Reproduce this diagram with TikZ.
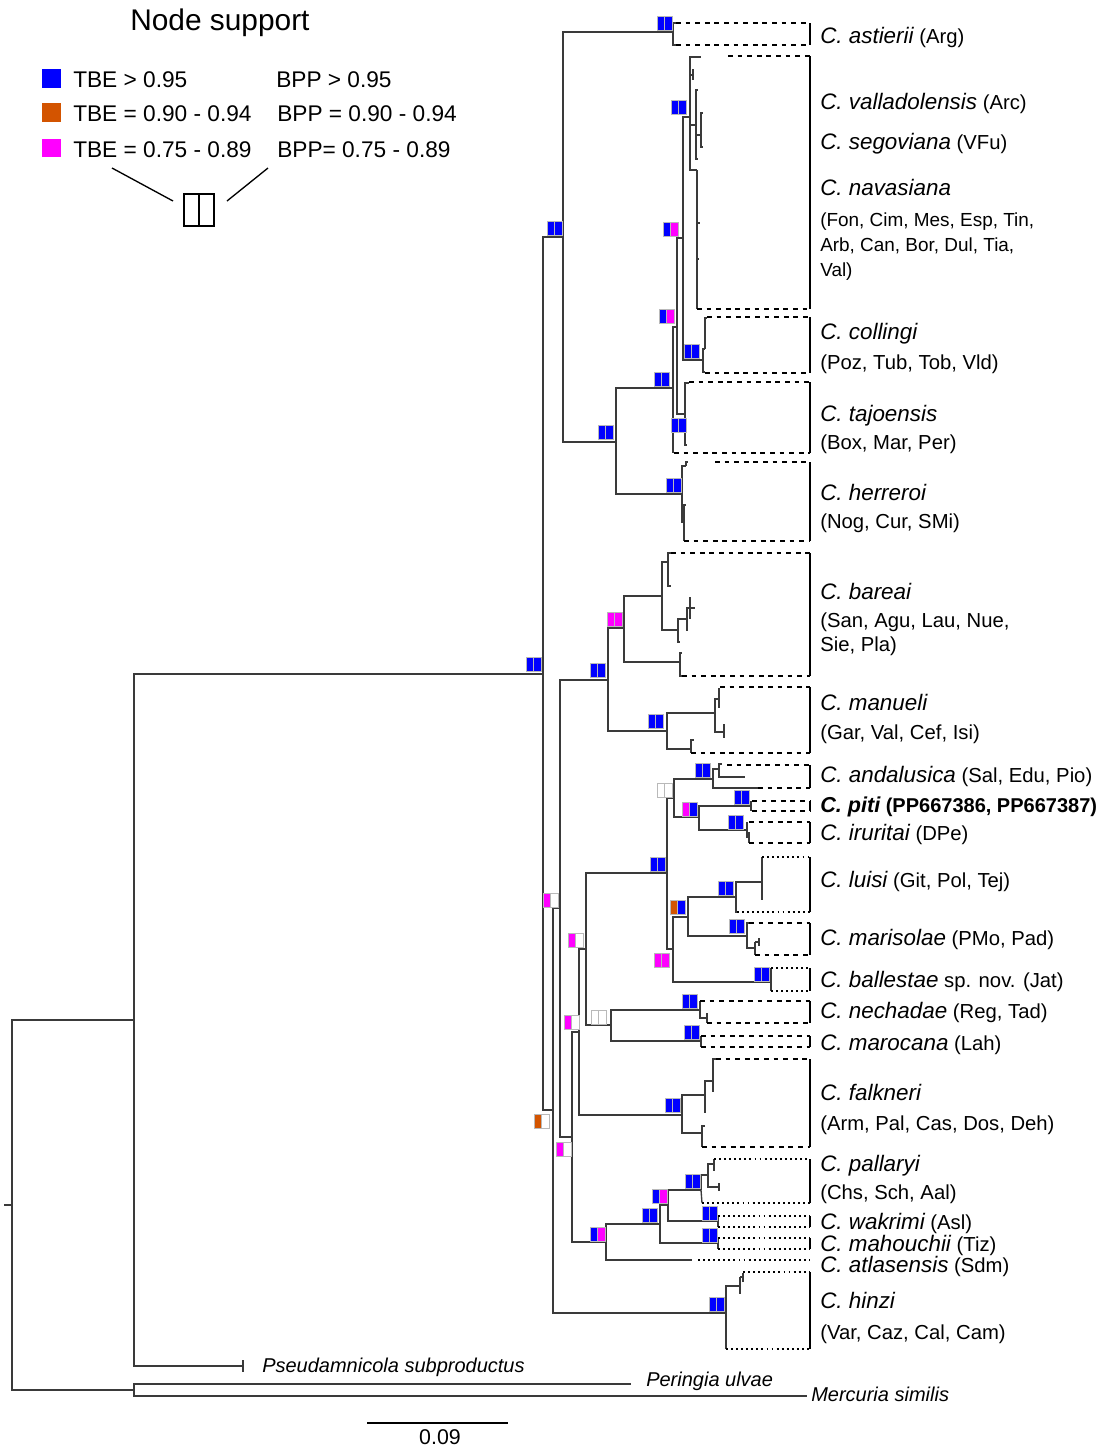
\documentclass[tikz,border=0pt]{standalone}
\usepackage{fontspec}
\setmainfont{Liberation Sans}
\usetikzlibrary{calc}
\definecolor{tbeblue}{HTML}{0000FF}
\definecolor{tbepink}{HTML}{FF00FF}
\definecolor{tbeorange}{HTML}{D35400}
\definecolor{branchgray}{HTML}{3A3A3A}
\newcommand{\taxon}[1]{{\fontsize{16.8}{19}\selectfont\itshape #1}}

\begin{document}
\begin{tikzpicture}[x=0.75pt, y=-0.75pt,
    br/.style={draw=branchgray, line width=1pt},
    dsh/.style={draw=black, line width=1.3pt, dash pattern=on 3.6pt off 3.6pt},
    dts/.style={draw=black, line width=1pt, dash pattern=on 1.4pt off 2.4pt},
    side/.style={draw=black, line width=1.2pt},
    lab/.style={anchor=base west, inner sep=0pt, font=\fontsize{15.2}{18}\selectfont},
    loclab/.style={lab, font=\fontsize{14.2}{17}\selectfont},
    outlab/.style={anchor=base west, inner sep=0pt, font=\fontsize{15}{18}\selectfont\itshape},
    key/.style={anchor=base west, inner sep=0pt, font=\fontsize{17}{20}\selectfont},
    keysq/.style={rectangle, minimum size=14.2pt, inner sep=0pt},
    keybox/.style={rectangle, draw=black, line width=1.3pt, minimum width=22.5pt, minimum height=24pt, inner sep=0pt},
    pics/supp/.style 2 args={code={
        \filldraw[fill=#1, draw=gray!55, line width=0.4pt] (-15,0) rectangle (-7.5,-14);
        \filldraw[fill=#2, draw=gray!55, line width=0.4pt] (-7.5,0) rectangle (0,-14);
    }}
]
\useasboundingbox (0,0) rectangle (1107,1447);

% Legend
\node[anchor=base west, inner sep=0pt, font=\fontsize{22.4}{26}\selectfont] (kTitle) at (130,30) {Node support};
\node[keysq, fill=tbeblue] (kBlue) at (51.5,78.5) {};
\node[keysq, fill=tbeorange] (kOrange) at (51.5,112.5) {};
\node[keysq, fill=tbepink] (kPink) at (51.5,148) {};
\node[key] (kT1) at (73,87) {TBE > 0.95};
\node[key] (kT2) at (73,121) {TBE = 0.90 - 0.94};
\node[key] (kT3) at (73,157) {TBE = 0.75 - 0.89};
\node[key] (kB1) at (276,87) {BPP > 0.95};
\node[key] (kB2) at (277,121) {BPP = 0.90 - 0.94};
\node[key] (kB3) at (277,157) {BPP= 0.75 - 0.89};
\node[keybox] (kBox) at (199,210) {};
\draw[line width=1.3pt] (kBox.north) -- (kBox.south);
\coordinate (kL1) at (112,168);
\coordinate (kL2) at (173,201);
\coordinate (kR1) at (268,168);
\coordinate (kR2) at (227,201);
\draw[line width=1pt] (kL1) -- (kL2);
\draw[line width=1pt] (kR1) -- (kR2);

% Root and outgroups
\coordinate (rootstub) at (4,1205);
\coordinate (R) at (12,1205);
\coordinate (O1) at (134,1020);
\coordinate (O2) at (134,1390);
\coordinate (tPse) at (243,1366);
\coordinate (tPse1) at (243,1360);
\coordinate (tPse2) at (243,1372);
\coordinate (tPer) at (631,1384);
\coordinate (tMer) at (807,1396);
\coordinate (I) at (543,674);
\coordinate (A) at (563,237);
\coordinate (B) at (553,1110);

% Upper clade
\coordinate (Ast) at (673,32);
\coordinate (Ast1) at (676,23);
\coordinate (Ast2) at (676,45);
\coordinate (C) at (616,442);
\coordinate (D) at (673,388);
\coordinate (Dt) at (674,452);
\coordinate (E) at (677,327);
\coordinate (T) at (685,414);
\coordinate (T1) at (689,383);
\coordinate (T2) at (687,445);
\coordinate (F) at (683,238);
\coordinate (G) at (690,117);
\coordinate (G1) at (701,57);
\coordinate (G2) at (693,75);
\coordinate (G2a) at (693,69);
\coordinate (G2b) at (693,80);
\coordinate (G3) at (696,125);
\coordinate (G3a) at (698,90);
\coordinate (G3b) at (701,135);
\coordinate (G3b1) at (703,113);
\coordinate (G3b2) at (703,147);
\coordinate (G3c) at (698,159);
\coordinate (G4) at (697,170);
\coordinate (G4t1) at (700,223);
\coordinate (G4t2) at (699,259);
\coordinate (G4e) at (697,309);
\coordinate (Co) at (703,360);
\coordinate (Co1) at (705,349);
\coordinate (Co1a) at (707,318);
\coordinate (Co2) at (705,372);
\coordinate (H) at (682,494);
\coordinate (H1) at (686,466);
\coordinate (H1a) at (688,462);
\coordinate (H2) at (684,522);
\coordinate (H2a) at (686,505);
\coordinate (H2b) at (684,541);

% Lower clade
\coordinate (J) at (560,908);
\coordinate (K) at (608,680);
\coordinate (Ba) at (624,628);
\coordinate (Ba1) at (662,596);
\coordinate (Ba1a) at (668,562);
\coordinate (Ba1a1) at (671,553);
\coordinate (Ba1a2) at (671,586);
\coordinate (Ba2) at (678,630);
\coordinate (Ba2a) at (687,619);
\coordinate (Ba2b) at (680,642);
\coordinate (Ba2x) at (690,608);
\coordinate (Ba2x1) at (690,597);
\coordinate (Ba2x2) at (690,619);
\coordinate (Ba2x3) at (695,608);
\coordinate (Ba2y) at (688,630);
\coordinate (Ba3) at (680,662);
\coordinate (Ba3a) at (682,653);
\coordinate (Ba3b) at (682,676);
\coordinate (Mn) at (667,731);
\coordinate (Mn1) at (715,713);
\coordinate (Mn1a) at (719,699);
\coordinate (Mn1a1) at (719,688);
\coordinate (Mn1a2) at (719,708);
\coordinate (Mn1b) at (724,732);
\coordinate (Mn1b1) at (724,724);
\coordinate (Mn1b2) at (724,738);
\coordinate (Mn2) at (691,749);
\coordinate (Mn2a) at (694,740);
\coordinate (Mn2b) at (691,753);
\coordinate (L) at (572,1137);
\coordinate (M) at (579,1032);
\coordinate (P) at (586,949);
\coordinate (Q) at (667,873);
\coordinate (U) at (674,798);
\coordinate (An) at (713,779);
\coordinate (An1) at (719,769);
\coordinate (An1a) at (722,764);
\coordinate (An1b) at (745,777);
\coordinate (An2) at (758,788);
\coordinate (Pi) at (699,817);
\coordinate (piti) at (751,806);
\coordinate (pitia) at (751,801);
\coordinate (pitib) at (751,811);
\coordinate (iru) at (747,830);
\coordinate (irua) at (747,822);
\coordinate (irub) at (747,838);
\coordinate (iruc) at (749,832);
\coordinate (irud) at (749,843);
\coordinate (V) at (673,949);
\coordinate (W) at (688,917);
\coordinate (Lu) at (736,897);
\coordinate (Lu1) at (762,882);
\coordinate (Lu1a) at (762,857);
\coordinate (Lu1b) at (762,900);
\coordinate (Lu2) at (737,912);
\coordinate (Ma) at (747,936);
\coordinate (Ma1) at (749,923);
\coordinate (Ma2) at (755,948);
\coordinate (Ma2a) at (755,942);
\coordinate (Ma2b) at (755,955);
\coordinate (Ma2c) at (759,942);
\coordinate (Ma2d) at (759,938);
\coordinate (Ma2e) at (759,946);
\coordinate (Bl) at (771,982);
\coordinate (Bla) at (771,968);
\coordinate (Blb) at (771,991);
\coordinate (Nm) at (611,1025);
\coordinate (Ne) at (700,1010);
\coordinate (Nea) at (700,1001);
\coordinate (Neb) at (707,1018);
\coordinate (Neb1) at (707,1013);
\coordinate (Neb2) at (707,1023);
\coordinate (Mr) at (701,1041);
\coordinate (Mra) at (701,1036);
\coordinate (Mrb) at (701,1047);
\coordinate (Fa) at (682,1115);
\coordinate (Fa1) at (705,1095);
\coordinate (Fa1a) at (713,1081);
\coordinate (Fa1a1) at (716,1059);
\coordinate (Fa1a2) at (713,1092);
\coordinate (Fa1b) at (705,1113);
\coordinate (Fa2) at (702,1133);
\coordinate (Fa2a) at (705,1126);
\coordinate (Fa2b) at (702,1147);
\coordinate (N) at (606,1242);
\coordinate (X) at (660,1224);
\coordinate (Y) at (668,1205);
\coordinate (Pa) at (701,1190);
\coordinate (Pa1) at (708,1175);
\coordinate (Pa1a) at (714,1164);
\coordinate (Pa1a1) at (714,1159);
\coordinate (Pa1a2) at (714,1171);
\coordinate (Pa1b) at (719,1187);
\coordinate (Pa1b1) at (719,1183);
\coordinate (Pa1b2) at (719,1191);
\coordinate (Pa2) at (702,1203);
\coordinate (Wk) at (718,1221);
\coordinate (Wka) at (718,1216);
\coordinate (Wkb) at (718,1227);
\coordinate (Mh) at (718,1243);
\coordinate (Mha) at (718,1238);
\coordinate (Mhb) at (718,1249);
\coordinate (At) at (692,1260);
\coordinate (Hz) at (726,1313);
\coordinate (Hz1) at (740,1286);
\coordinate (Hz1a) at (740,1277);
\coordinate (Hz1b) at (740,1294);
\coordinate (Hz1c) at (743,1277);
\coordinate (Hz1d) at (743,1273);
\coordinate (Hz1e) at (743,1282);
\coordinate (Hz2) at (726,1349);

% Branches: root and outgroups
\draw[br] (rootstub) -- (R);
\draw[br] (R) |- (O1);
\draw[br] (R) |- (O2);
\draw[br] (O1) |- (I);
\draw[br] (O1) |- (tPse);
\draw[br] (tPse1) -- (tPse2);
\draw[br] (O2) |- (tPer);
\draw[br] (O2) |- (tMer);
\draw[br] (I) |- (A);
\draw[br] (I) |- (B);

% Branches: upper clade
\draw[br] (A) |- (Ast);
\draw[br] (A) |- (C);
\draw[br] (Ast) |- (Ast1);
\draw[br] (Ast) |- (Ast2);
\draw[br] (C) |- (D);
\draw[br] (C) |- (H);
\draw[br] (D) |- (E);
\draw[br] (D) |- (Dt);
\draw[br] (E) |- (F);
\draw[br] (E) |- (T);
\draw[br] (T) |- (T1);
\draw[br] (T) |- (T2);
\draw[br] (F) |- (G);
\draw[br] (F) |- (Co);
\draw[br] (G) |- (G1);
\draw[br] (G) |- (G2);
\draw[br] (G2a) -- (G2b);
\draw[br] (G) |- (G3);
\draw[br] (G3) |- (G3a);
\draw[br] (G3) |- (G3c);
\draw[br] (G3) |- (G3b);
\draw[br] (G3b) |- (G3b1);
\draw[br] (G3b) |- (G3b2);
\draw[br] (G) |- (G4);
\draw[br] (G4) |- (G4t1);
\draw[br] (G4) |- (G4t2);
\draw[br] (G4) -- (G4e);
\draw[br] (Co) |- (Co1);
\draw[br] (Co1) |- (Co1a);
\draw[br] (Co) |- (Co2);
\draw[br] (H) |- (H1);
\draw[br] (H1) |- (H1a);
\draw[br] (H) |- (H2);
\draw[br] (H2) |- (H2a);
\draw[br] (H2) -- (H2b);

% Branches: lower clade
\draw[br] (B) |- (J);
\draw[br] (B) |- (Hz);
\draw[br] (J) |- (K);
\draw[br] (J) |- (L);
\draw[br] (K) |- (Ba);
\draw[br] (K) |- (Mn);
\draw[br] (Ba) |- (Ba1);
\draw[br] (Ba) |- (Ba3);
\draw[br] (Ba1) |- (Ba1a);
\draw[br] (Ba1a) |- (Ba1a1);
\draw[br] (Ba1a) |- (Ba1a2);
\draw[br] (Ba1) |- (Ba2);
\draw[br] (Ba2) |- (Ba2a);
\draw[br] (Ba2) |- (Ba2b);
\draw[br] (Ba2a) |- (Ba2x);
\draw[br] (Ba2a) |- (Ba2y);
\draw[br] (Ba2x1) -- (Ba2x2);
\draw[br] (Ba2x) -- (Ba2x3);
\draw[br] (Ba3) |- (Ba3a);
\draw[br] (Ba3) |- (Ba3b);
\draw[br] (Mn) |- (Mn1);
\draw[br] (Mn) |- (Mn2);
\draw[br] (Mn1) |- (Mn1a);
\draw[br] (Mn1a1) -- (Mn1a2);
\draw[br] (Mn1) |- (Mn1b);
\draw[br] (Mn1b1) -- (Mn1b2);
\draw[br] (Mn2) |- (Mn2a);
\draw[br] (Mn2) -- (Mn2b);
\draw[br] (L) |- (M);
\draw[br] (L) |- (N);
\draw[br] (M) |- (P);
\draw[br] (M) |- (Fa);
\draw[br] (P) |- (Q);
\draw[br] (P) |- (Nm);
\draw[br] (Q) |- (U);
\draw[br] (Q) |- (V);
\draw[br] (U) |- (An);
\draw[br] (U) |- (Pi);
\draw[br] (An) |- (An1);
\draw[br] (An1) |- (An1a);
\draw[br] (An1) |- (An1b);
\draw[br] (An) |- (An2);
\draw[br] (Pi) |- (piti);
\draw[br] (Pi) |- (iru);
\draw[br] (pitia) -- (pitib);
\draw[br] (irua) -- (irub);
\draw[br] (iruc) -- (irud);
\draw[br] (V) |- (W);
\draw[br] (V) |- (Bl);
\draw[br] (W) |- (Lu);
\draw[br] (W) |- (Ma);
\draw[br] (Lu) |- (Lu1);
\draw[br] (Lu1a) -- (Lu1b);
\draw[br] (Lu) |- (Lu2);
\draw[br] (Ma) |- (Ma1);
\draw[br] (Ma) |- (Ma2);
\draw[br] (Ma2a) -- (Ma2b);
\draw[br] (Ma2a) -- (Ma2c);
\draw[br] (Ma2d) -- (Ma2e);
\draw[br] (Bla) -- (Blb);
\draw[br] (Nm) |- (Ne);
\draw[br] (Nm) |- (Mr);
\draw[br] (Ne) -- (Nea);
\draw[br] (Ne) |- (Neb);
\draw[br] (Neb1) -- (Neb2);
\draw[br] (Mra) -- (Mrb);
\draw[br] (Fa) |- (Fa1);
\draw[br] (Fa) |- (Fa2);
\draw[br] (Fa1) |- (Fa1a);
\draw[br] (Fa1a) |- (Fa1a1);
\draw[br] (Fa1a) -- (Fa1a2);
\draw[br] (Fa1) -- (Fa1b);
\draw[br] (Fa2) |- (Fa2a);
\draw[br] (Fa2) -- (Fa2b);
\draw[br] (N) |- (X);
\draw[br] (N) |- (At);
\draw[br] (X) |- (Y);
\draw[br] (X) |- (Mh);
\draw[br] (Y) |- (Pa);
\draw[br] (Y) |- (Wk);
\draw[br] (Pa) |- (Pa1);
\draw[br] (Pa1) |- (Pa1a);
\draw[br] (Pa1a1) -- (Pa1a2);
\draw[br] (Pa1) |- (Pa1b);
\draw[br] (Pa1b1) -- (Pa1b2);
\draw[br] (Pa) -- (Pa2);
\draw[br] (Wka) -- (Wkb);
\draw[br] (Mha) -- (Mhb);
\draw[br] (Hz) |- (Hz1);
\draw[br] (Hz1a) -- (Hz1b);
\draw[br] (Hz1a) -- (Hz1c);
\draw[br] (Hz1d) -- (Hz1e);
\draw[br] (Hz) -- (Hz2);

% Clade brackets
\draw[dsh] (676,23) -- (810,23) (676,45) -- (810,45);   \draw[side] (810,23) -- (810,45);
\draw[dsh] (728,56) -- (810,56) (697,309) -- (810,309); \draw[side] (810,56) -- (810,309);
\draw[dsh] (707,317) -- (810,317) (705,373) -- (810,373); \draw[side] (810,317) -- (810,373);
\draw[dsh] (689,382) -- (810,382) (674,453) -- (810,453); \draw[side] (810,382) -- (810,453);
\draw[dsh] (715,462) -- (810,462) (684,541) -- (810,541); \draw[side] (810,462) -- (810,541);
\draw[dsh] (671,553) -- (810,553) (682,676) -- (810,676); \draw[side] (810,553) -- (810,676);
\draw[dsh] (720,687) -- (810,687) (691,753) -- (810,753); \draw[side] (810,687) -- (810,753);
\draw[dsh] (727,765) -- (810,765) (758,788) -- (810,788); \draw[side] (810,765) -- (810,788);
\draw[dsh] (752,801) -- (810,801) (752,811) -- (810,811); \draw[side] (810,801) -- (810,811);
\draw[dsh] (749,822) -- (810,822) (749,843) -- (810,843); \draw[side] (810,822) -- (810,843);
\draw[dts] (762,857) -- (810,857) (737,912) -- (810,912); \draw[side] (810,857) -- (810,912);
\draw[dsh] (749,923) -- (810,923) (755,955) -- (810,955); \draw[side] (810,923) -- (810,955);
\draw[dts] (771,968) -- (810,968) (771,991) -- (810,991); \draw[side] (810,968) -- (810,991);
\draw[dsh] (700,1001) -- (810,1001) (707,1023) -- (810,1023); \draw[side] (810,1001) -- (810,1023);
\draw[dsh] (701,1036) -- (810,1036) (701,1047) -- (810,1047); \draw[side] (810,1036) -- (810,1047);
\draw[dsh] (716,1059) -- (810,1059) (702,1147) -- (810,1147); \draw[side] (810,1059) -- (810,1147);
\draw[dts] (714,1159) -- (810,1159) (702,1203) -- (810,1203); \draw[side] (810,1159) -- (810,1203);
\draw[dts] (718,1216) -- (810,1216) (718,1227) -- (810,1227); \draw[side] (810,1216) -- (810,1227);
\draw[dts] (718,1238) -- (810,1238) (718,1249) -- (810,1249); \draw[side] (810,1238) -- (810,1249);
\draw[dts] (698,1260) -- (810,1260);
\draw[dts] (743,1272) -- (810,1272) (726,1349) -- (810,1349); \draw[side] (810,1272) -- (810,1349);

% Node support boxes (TBE | BPP)
\pic at ($(I)+(-2,-3)$) {supp={tbeblue}{tbeblue}};
\pic at ($(A)+(-1,-2)$) {supp={tbeblue}{tbeblue}};
\pic at ($(Ast)+(-1,-2)$) {supp={tbeblue}{tbeblue}};
\pic at ($(C)+(-3,-3)$) {supp={tbeblue}{tbeblue}};
\pic at ($(D)+(-4,-2)$) {supp={tbeblue}{tbeblue}};
\pic at ($(E)+(-3,-4)$) {supp={tbeblue}{tbepink}};
\pic at ($(F)+(-5,-2)$) {supp={tbeblue}{tbepink}};
\pic at ($(G)+(-4,-3)$) {supp={tbeblue}{tbeblue}};
\pic at ($(Co)+(-4,-2)$) {supp={tbeblue}{tbeblue}};
\pic at ($(T)+(1,18)$) {supp={tbeblue}{tbeblue}};
\pic at ($(H)+(-1,-2)$) {supp={tbeblue}{tbeblue}};
\pic at ($(B)+(-4,18)$) {supp={tbeorange}{white}};
\pic at ($(J)+(-2,-1)$) {supp={tbepink}{white}};
\pic at ($(K)+(-3,-3)$) {supp={tbeblue}{tbeblue}};
\pic at ($(Ba)+(-2,-2)$) {supp={tbepink}{tbepink}};
\pic at ($(Mn)+(-4,-3)$) {supp={tbeblue}{tbeblue}};
\pic at ($(L)+(-1,19)$) {supp={tbepink}{white}};
\pic at ($(M)+(0,-3)$) {supp={tbepink}{white}};
\pic at ($(P)+(-3,-2)$) {supp={tbepink}{white}};
\pic at ($(Q)+(-2,-2)$) {supp={tbeblue}{tbeblue}};
\pic at ($(U)+(-2,-1)$) {supp={white}{white}};
\pic at ($(An)+(-3,-2)$) {supp={tbeblue}{tbeblue}};
\pic at ($(Pi)+(-2,-1)$) {supp={tbepink}{tbeblue}};
\pic at ($(piti)+(-2,-2)$) {supp={tbeblue}{tbeblue}};
\pic at ($(iru)+(-4,-1)$) {supp={tbeblue}{tbeblue}};
\pic at ($(V)+(-4,18)$) {supp={tbepink}{tbepink}};
\pic at ($(W)+(-3,-3)$) {supp={tbeorange}{tbeblue}};
\pic at ($(Lu)+(-3,-2)$) {supp={tbeblue}{tbeblue}};
\pic at ($(Ma)+(-3,-3)$) {supp={tbeblue}{tbeblue}};
\pic at ($(Bl)+(-2,-1)$) {supp={tbeblue}{tbeblue}};
\pic at ($(Nm)+(-5,-1)$) {supp={white}{white}};
\pic at ($(Ne)+(-3,-2)$) {supp={tbeblue}{tbeblue}};
\pic at ($(Mr)+(-2,-2)$) {supp={tbeblue}{tbeblue}};
\pic at ($(Fa)+(-2,-3)$) {supp={tbeblue}{tbeblue}};
\pic at ($(N)+(-1,-1)$) {supp={tbeblue}{tbepink}};
\pic at ($(X)+(-3,-2)$) {supp={tbeblue}{tbeblue}};
\pic at ($(Y)+(-1,-2)$) {supp={tbeblue}{tbepink}};
\pic at ($(Pa)+(-1,-2)$) {supp={tbeblue}{tbeblue}};
\pic at ($(Wk)+(-1,-1)$) {supp={tbeblue}{tbeblue}};
\pic at ($(Mh)+(-1,-1)$) {supp={tbeblue}{tbeblue}};
\pic at ($(Hz)+(-2,-2)$) {supp={tbeblue}{tbeblue}};

% Clade labels
\node[lab] (lAst) at (820,43) {\taxon{C. astierii} (Arg)};
\node[lab] (lVal) at (820,109) {\taxon{C. valladolensis} (Arc)};
\node[lab] (lSeg) at (820,149) {\taxon{C. segoviana} (VFu)};
\node[lab] (lNav) at (820,195) {\taxon{C. navasiana}};
\node[loclab] (lNav2) at (820,226) {(Fon, Cim, Mes, Esp, Tin,};
\node[loclab] (lNav3) at (820,251) {Arb, Can, Bor, Dul, Tia,};
\node[loclab] (lNav4) at (820,276) {Val)};
\node[lab] (lCol) at (820,339) {\taxon{C. collingi}};
\node[lab] (lCol2) at (820,369) {(Poz, Tub, Tob, Vld)};
\node[lab] (lTaj) at (820,421) {\taxon{C. tajoensis}};
\node[lab] (lTaj2) at (820,449) {(Box, Mar, Per)};
\node[lab] (lHer) at (820,500) {\taxon{C. herreroi}};
\node[lab] (lHer2) at (820,528) {(Nog, Cur, SMi)};
\node[lab] (lBar) at (820,599) {\taxon{C. bareai}};
\node[lab] (lBar2) at (820,627) {(San, Agu, Lau, Nue,};
\node[lab] (lBar3) at (820,651) {Sie, Pla)};
\node[lab] (lMan) at (820,710) {\taxon{C. manueli}};
\node[lab] (lMan2) at (820,739) {(Gar, Val, Cef, Isi)};
\node[lab] (lAnd) at (820,782) {\taxon{C. andalusica} (Sal, Edu, Pio)};
\node[lab, font=\fontsize{15}{18}\selectfont\bfseries] (lPit) at (820,812) {{\fontsize{16.2}{19}\selectfont\itshape C. piti} (PP667386, PP667387)};
\node[lab] (lIru) at (820,840) {\taxon{C. iruritai} (DPe)};
\node[lab] (lLui) at (820,887) {\taxon{C. luisi} (Git, Pol, Tej)};
\node[lab] (lMar) at (820,945) {\taxon{C. marisolae} (PMo, Pad)};
\node[lab] (lBal) at (820,987) {\taxon{C. ballestae} sp. nov. (Jat)};
\node[lab] (lNec) at (820,1018) {\taxon{C. nechadae} (Reg, Tad)};
\node[lab] (lMrc) at (820,1050) {\taxon{C. marocana} (Lah)};
\node[lab] (lFal) at (820,1100) {\taxon{C. falkneri}};
\node[lab] (lFal2) at (820,1130) {(Arm, Pal, Cas, Dos, Deh)};
\node[lab] (lPal) at (820,1171) {\taxon{C. pallaryi}};
\node[lab] (lPal2) at (820,1199) {(Chs, Sch, Aal)};
\node[lab] (lWak) at (820,1229) {\taxon{C. wakrimi} (Asl)};
\node[lab] (lMah) at (820,1251) {\taxon{C. mahouchii} (Tiz)};
\node[lab] (lAtl) at (820,1272) {\taxon{C. atlasensis} (Sdm)};
\node[lab] (lHin) at (820,1308) {\taxon{C. hinzi}};
\node[lab] (lHin2) at (820,1339) {(Var, Caz, Cal, Cam)};

% Outgroup labels
\node[outlab] (lPse) at (262,1372) {Pseudamnicola subproductus};
\node[outlab] (lPer) at (646,1386) {Peringia ulvae};
\node[outlab] (lMer) at (811,1401) {Mercuria similis};

% Scale bar
\coordinate (sb1) at (367,1423);
\coordinate (sb2) at (508,1423);
\draw[line width=1.2pt] (sb1) -- (sb2);
\node[inner sep=0pt, font=\fontsize{16}{19}\selectfont] (sbl) at (440,1437) {0.09};
\end{tikzpicture}
\end{document}
